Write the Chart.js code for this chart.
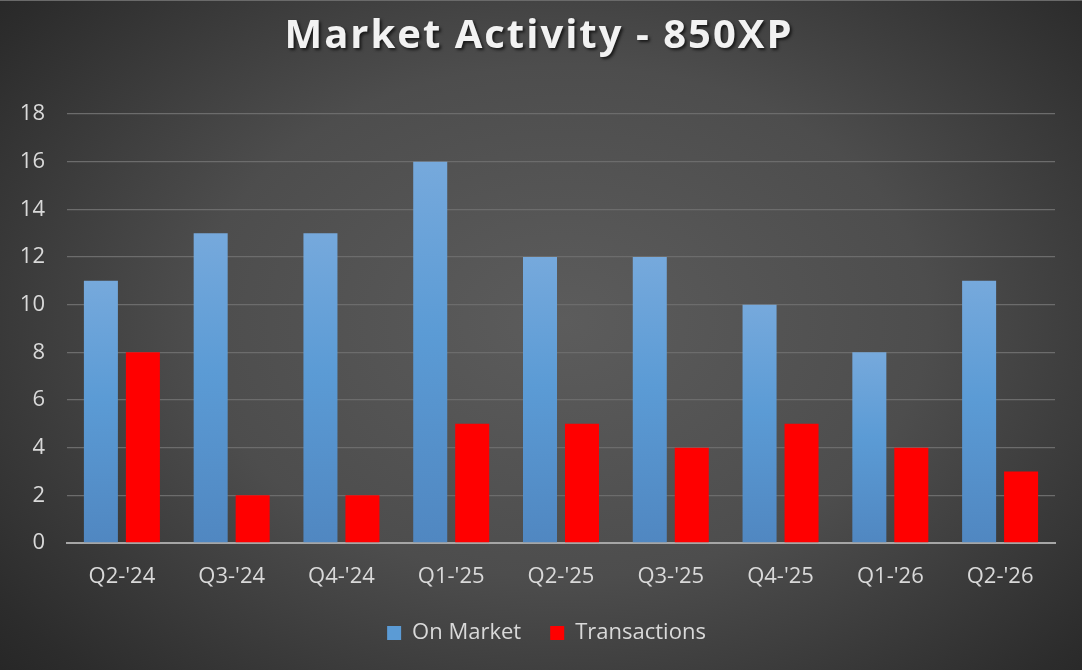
<!DOCTYPE html>
<html>
<head>
<meta charset="utf-8">
<script src="https://cdn.jsdelivr.net/npm/chart.js@4/dist/chart.umd.min.js"></script>
<style>
  html, body { margin: 0; padding: 0; }
  body {
    width: 1082px; height: 670px; overflow: hidden;
    background: radial-gradient(ellipse 75% 85% at 52% 48%, #5c5c5c 0%, #4d4d4d 45%, #2c2c2c 85%, #222222 100%);
  }
  #wrap { position: relative; width: 1082px; height: 670px; border-top: 1px solid #6a6a6a; box-sizing: border-box; }
</style>
</head>
<body>
<div id="wrap"><canvas id="c"></canvas></div>
<script>
const titleText = "Market Activity - 850XP";
const categories = ["Q2-'24", "Q3-'24", "Q4-'24", "Q1-'25", "Q2-'25", "Q3-'25", "Q4-'25", "Q1-'26", "Q2-'26"];
const seriesNames = ["On Market", "Transactions"];
const onMarket = [11, 13, 13, 16, 12, 12, 10, 8, 11];
const transactions = [8, 2, 2, 5, 5, 4, 5, 4, 3];
const yTicks = [0, 2, 4, 6, 8, 10, 12, 14, 16, 18];

const FONT = "'Open Sans', 'Noto Sans', sans-serif";

function blueGradient(ctx) {
  const chart = ctx.chart;
  const y = chart.scales && chart.scales.y;
  if (!y || ctx.type !== 'data' || ctx.parsed == null) return '#5b9bd5';
  const top = y.getPixelForValue(ctx.parsed.y);
  const bottom = y.getPixelForValue(0);
  if (!isFinite(top) || !isFinite(bottom) || top === bottom) return '#5b9bd5';
  const g = chart.ctx.createLinearGradient(0, top, 0, bottom);
  g.addColorStop(0, '#76a9dc');
  g.addColorStop(0.45, '#5b9bd5');
  g.addColorStop(1, '#5087c1');
  return g;
}

const titlePlugin = {
  id: 'fancyTitle',
  afterLayout(chart) {
    if (chart.legend) { chart.legend.left += 8; chart.legend.right += 8; }
  },
  afterDraw(chart) {
    const t = chart.titleBlock;
    if (!t) return;
    const c = chart.ctx;
    c.save();
    c.font = "bold 40px " + FONT;
    c.letterSpacing = '2px';
    c.textAlign = 'center';
    c.textBaseline = 'middle';
    c.shadowColor = 'rgba(0,0,0,0.65)';
    c.shadowOffsetX = 2;
    c.shadowOffsetY = 2;
    c.shadowBlur = 3;
    c.fillStyle = '#f2f2f2';
    c.fillText(chart.options.plugins.title.text, chart.width / 2 - 2, t.top + t.height / 2 - 21);
    c.restore();
  }
};

new Chart(document.getElementById('c'), {
  type: 'bar',
  data: {
    labels: categories,
    datasets: [
      { label: seriesNames[0], data: onMarket, backgroundColor: blueGradient, borderWidth: 0 },
      { label: seriesNames[1], data: transactions, backgroundColor: '#ff0000', borderWidth: 0 }
    ]
  },
  options: {
    responsive: true,
    maintainAspectRatio: false,
    animation: false,
    categoryPercentage: 0.765,
    barPercentage: 0.81,
    layout: { padding: { left: 22, right: 27, top: 0, bottom: 16 } },
    plugins: {
      title: {
        display: true,
        text: titleText,
        color: 'rgba(0,0,0,0)',
        font: { family: FONT, size: 40, weight: 'bold' },
        padding: { top: 11, bottom: 54 }
      },
      legend: {
        position: 'bottom',
        labels: {
          color: '#d9d9d9',
          font: { family: FONT, size: 22 },
          boxWidth: 14,
          boxHeight: 14,
          padding: 29,
          generateLabels(chart) {
            return chart.data.datasets.map((ds, i) => ({
              text: ds.label,
              fillStyle: i === 0 ? '#5b9bd5' : '#ff0000',
              strokeStyle: 'rgba(0,0,0,0)',
              lineWidth: 0,
              fontColor: '#d9d9d9',
              hidden: !chart.isDatasetVisible(i),
              datasetIndex: i
            }));
          }
        }
      },
      tooltip: { enabled: false }
    },
    scales: {
      x: {
        grid: { display: false, drawTicks: false },
        border: { display: true, color: '#a6a6a6', width: 2 },
        ticks: { color: '#d9d9d9', font: { family: FONT, size: 22 }, padding: 21, maxRotation: 0 },
        afterFit(axis) { axis.height = 50; axis.paddingLeft = 0; axis.paddingRight = 0; }
      },
      y: {
        min: 0,
        max: 18,
        afterBuildTicks(axis) { axis.ticks = yTicks.map(v => ({ value: v })); },
        grid: { color: '#6c6c6c', lineWidth: 1.3, drawTicks: false },
        border: { display: false },
        ticks: { color: '#d9d9d9', font: { family: FONT, size: 22 }, padding: 22 },
        afterFit(axis) { axis.width = 45; }
      }
    }
  },
  plugins: [titlePlugin]
});
</script>
</body>
</html>
